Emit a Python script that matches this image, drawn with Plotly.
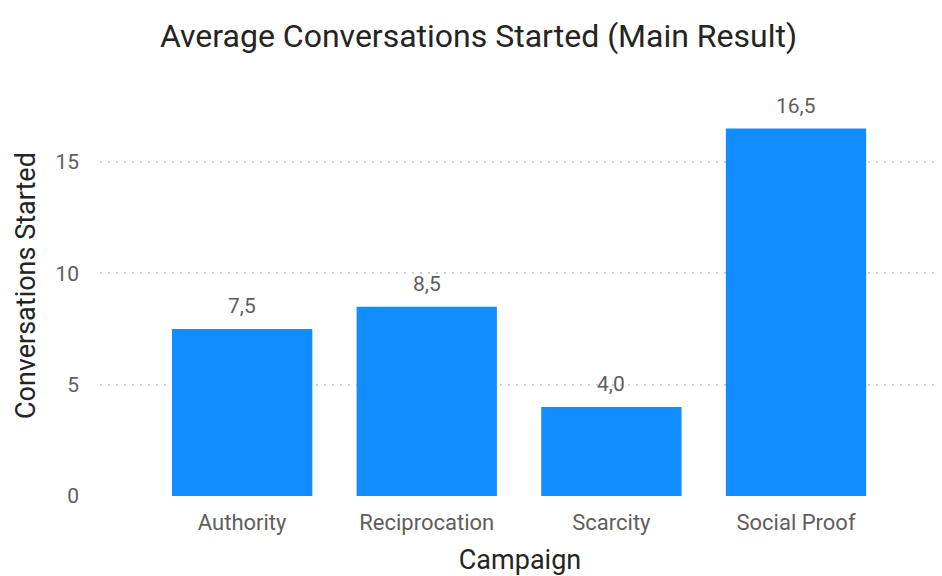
import plotly.graph_objects as go

categories = ["Authority", "Reciprocation", "Scarcity", "Social Proof"]
values = [7.5, 8.5, 4.0, 16.5]
y_ticks = [0, 5, 10, 15]

FONT = "Roboto, DejaVu Sans, sans-serif"

fig = go.Figure(go.Bar(
    x=categories, y=values,
    marker=dict(color="#118DFF", line=dict(width=0)),
    width=0.76,
    hoverinfo="x+y",
))

for c, v in zip(categories, values):
    fig.add_annotation(
        x=c, y=v, text=f"{v:.1f}".replace(".", ","), showarrow=False,
        yanchor="bottom", yshift=9,
        font=dict(family=FONT, size=21, color="#605E5C"),
    )

# y-axis title as annotation (positioned like the reference)
fig.add_annotation(
    text="Conversations Started", xref="paper", yref="paper",
    x=-0.088, y=0.525, xanchor="center", yanchor="middle", textangle=-90,
    showarrow=False, font=dict(family=FONT, size=27, color="#252423"),
)

fig.update_layout(
    width=942, height=576,
    paper_bgcolor="white", plot_bgcolor="white",
    separators=",.",
    margin=dict(l=100, r=2, t=96, b=80),
    showlegend=False,
    title=dict(text="Average Conversations Started (Main Result)", x=0.508, xanchor="center",
               y=0.937, yanchor="middle",
               font=dict(family=FONT, size=32, color="#252423")),
    font=dict(family=FONT),
)
fig.update_xaxes(
    range=[-0.77, 3.78], showgrid=False, showline=False, zeroline=False,
    tickfont=dict(family=FONT, size=22, color="#605E5C"), ticks="", ticklabelstandoff=11,
    title=dict(text="Campaign", font=dict(family=FONT, size=27, color="#252423"), standoff=16),
    automargin=False,
)
fig.update_yaxes(
    range=[0, 17.96], tickvals=y_ticks, ticktext=[str(v) for v in y_ticks],
    showgrid=True, gridcolor="#D0D0D0", griddash="2px,6px", gridwidth=1.5,
    zeroline=False, showline=False, ticks="", ticklabelstandoff=20,
    tickfont=dict(family=FONT, size=21, color="#605E5C"),
    automargin=False,
)
fig.write_html("out.html")
